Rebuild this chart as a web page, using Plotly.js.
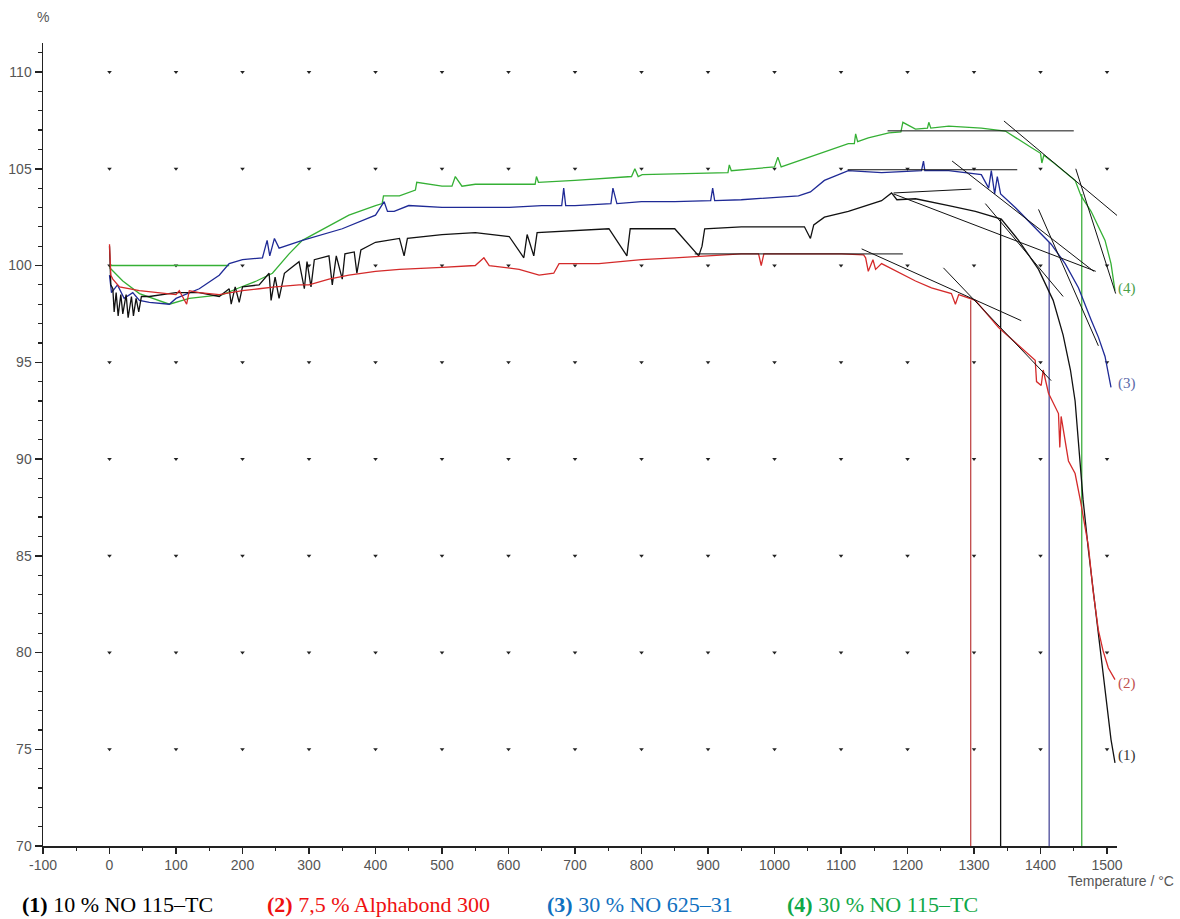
<!DOCTYPE html>
<html>
<head>
<meta charset="utf-8">
<script src="https://cdn.plot.ly/plotly-3.0.1.min.js"></script>
<style>
html,body{margin:0;padding:0;background:#fff;}
#chart{width:1180px;height:919px;}
</style>
</head>
<body>
<div id="chart"></div>
<script>
// ---------- tick labels ----------
const xTicks = [-100,0,100,200,300,400,500,600,700,800,900,1000,1100,1200,1300,1400,1500];
const yTicks = [70,75,80,85,90,95,100,105,110];
const gridT = [0,100,200,300,400,500,600,700,800,900,1000,1100,1200,1300,1400,1500];
const gridV = [75,80,85,90,95,100,105,110];

// ---------- series (Temperature / °C, mass %) ----------
// (1) 10 % NO 115-TC  (black)
const t1 = [0,2,5,7,10,13,17,20,25,28,33,36,40,44,48,60,100,135,165,180,183,189,195,200,225,240,243,249,255,263,270,285,293,297,303,308,330,335,341,350,354,368,372,378,400,436,443,448,500,550,601,623,628,638,643,700,751,778,783,800,850,886,891,895,950,1000,1045,1054,1059,1075,1111,1161,1176,1184,1212,1262,1302,1341,1367,1397,1419,1434,1445,1452,1458,1464,1472,1481,1490,1499,1506,1512];
const v1 = [101.0,99.0,98.8,97.6,98.6,97.4,98.5,97.5,98.5,97.3,98.4,97.4,98.3,97.6,98.4,98.4,98.6,98.6,98.4,98.8,98.0,98.9,98.1,98.9,99.0,99.6,98.2,99.4,98.3,99.6,99.8,100.2,98.8,100.2,98.9,100.3,100.5,99.0,100.5,99.3,100.6,100.7,99.6,100.8,101.2,101.4,100.5,101.4,101.6,101.7,101.5,100.4,101.6,100.5,101.7,101.8,101.9,100.5,101.9,101.9,101.9,100.5,101.0,101.9,102.0,102.0,102.0,101.4,102.1,102.5,102.8,103.35,103.75,103.4,103.45,103.1,102.8,102.4,101.3,99.8,98.2,96.4,94.6,93.0,90.4,87.9,85.3,82.7,80.1,77.5,75.5,74.3];

// (2) 7,5 % Alphabond 300  (red)
const t2 = [0,2,5,15,45,75,100,105,116,120,135,165,200,225,249,285,300,330,360,400,436,500,550,563,571,616,646,668,676,736,800,850,901,950,976,980,984,1051,1101,1134,1137,1141,1148,1152,1161,1212,1236,1266,1272,1277,1302,1337,1371,1392,1394,1401,1404,1412,1427,1429,1431,1442,1452,1460,1472,1479,1487,1494,1502,1512];
const v2 = [101.1,99.5,99.3,98.9,98.7,98.6,98.5,98.7,98.0,98.7,98.6,98.5,98.7,98.8,98.9,99.0,99.0,99.3,99.5,99.7,99.8,99.9,100.0,100.4,100.0,99.8,99.5,99.6,100.1,100.1,100.3,100.4,100.5,100.6,100.6,100.0,100.6,100.6,100.6,100.55,100.4,99.7,100.3,99.8,100.1,99.2,98.85,98.55,98.0,98.5,98.2,96.8,95.75,95.1,94.0,93.8,94.6,93.4,92.35,90.6,92.2,89.9,89.25,87.85,85.5,83.2,81.15,80.1,79.2,78.6];

// (3) 30 % NO 625-31  (blue)
const t3 = [0,3,12,22,35,45,60,90,100,120,135,165,180,200,230,237,241,248,255,290,350,400,413,418,428,450,500,601,650,680,683,686,700,754,757,763,800,850,904,907,910,950,1000,1036,1054,1075,1111,1161,1221,1224,1226,1262,1311,1322,1326,1331,1335,1340,1362,1392,1416,1437,1457,1476,1487,1497,1506];
const v3 = [99.5,98.6,99.0,98.3,98.6,98.2,98.1,98.0,98.3,98.6,98.8,99.5,100.1,100.3,100.4,101.3,100.5,101.4,100.9,101.3,101.9,102.6,103.3,102.8,102.8,103.1,103.0,103.0,103.1,103.1,104.0,103.1,103.1,103.2,104.0,103.2,103.3,103.3,103.35,104.0,103.35,103.4,103.5,103.6,103.8,104.4,104.9,104.8,104.9,105.4,104.9,104.9,104.7,104.0,104.9,103.7,104.6,103.7,103.0,101.95,101.1,100.1,98.85,97.2,96.3,95.3,93.7];

// (4) 30 % NO 115-TC  (green)
const t4 = [0,20,45,90,120,170,195,221,245,270,290,360,400,410,412,436,460,462,500,515,520,530,550,601,640,642,645,700,785,790,795,801,901,930,932,935,1000,1005,1010,1036,1111,1120,1122,1125,1141,1172,1190,1193,1212,1230,1232,1235,1262,1311,1347,1386,1400,1402,1405,1422,1452,1461,1476,1497,1506,1512];
const v4 = [99.9,99.2,98.55,98.0,98.3,98.5,98.85,99.2,99.6,100.6,101.3,102.6,103.1,103.2,103.6,103.6,103.9,104.3,104.1,104.1,104.6,104.1,104.2,104.2,104.2,104.6,104.3,104.4,104.6,105.0,104.6,104.7,104.8,104.8,105.2,104.9,105.1,105.6,105.1,105.4,106.3,106.3,106.8,106.4,106.6,106.85,106.9,107.4,107.05,107.1,107.4,107.1,107.2,107.1,106.95,106.1,105.8,105.3,105.7,105.25,104.4,103.6,102.8,101.3,100.1,98.7];
const t4base = [0,180];
const v4base = [100,100];

// ---------- evaluation tangents (T start, T end, value start, value end) ----------
const tanRed   = [[880,1193,100.6,100.6],[1131,1371,100.86,97.15],[1254,1416,99.88,94.05]];
const tanBlack = [[1179,1296,103.75,103.95],[1179,1483,103.7,99.7],[1317,1434,103.2,98.4]];
const tanBlue  = [[1110,1365,104.95,104.95],[1267,1480,105.4,99.7],[1397,1487,102.9,95.85]];
const tanGreen = [[1170,1450,106.96,106.96],[1345,1525,107.47,102.3],[1453,1513,105.0,98.55]];

// ---------- onset temperatures (vertical markers) ----------
const onsetNames = ['(1)','(2)','(3)','(4)'];
const onsetT   = [1340,1295,1413,1462];
const onsetTop = [102.4,98.2,101.2,103.7];
const endLabelV = [74.7,78.4,93.9,98.8];

// ---------- styles ----------
const curveColors = ['#111111','#d42a2a','#1f2a96','#35b035'];
const vertColors  = ['#111111','#c04848','#4a4a9a','#3fae3f'];
const labelColors = ['#333333','#c05050','#5a68a8','#4aa04a'];

const traces = [];

// grid dots
const gx = [], gy = [];
gridV.forEach(v => gridT.forEach(t => { gx.push(t); gy.push(v); }));
traces.push({x:gx, y:gy, mode:'markers', type:'scatter', hoverinfo:'skip',
  marker:{symbol:'triangle-down', size:4, color:'#222'}});

// verticals
onsetT.forEach((t,i) => {
  traces.push({x:[t,t], y:[onsetTop[i],70], mode:'lines', type:'scatter',
    line:{color:vertColors[i], width:1.3}, hoverinfo:'skip'});
});

// curves
traces.push({x:t4base, y:v4base, mode:'lines', line:{color:curveColors[3], width:1.3}, hoverinfo:'skip'});
const series = [[t4,v4,3],[t3,v3,2],[t1,v1,0],[t2,v2,1]];
series.forEach(s => {
  traces.push({x:s[0], y:s[1], mode:'lines', type:'scatter',
    line:{color:curveColors[s[2]], width:1.3}, hoverinfo:'skip'});
});

// tangents
[tanRed, tanBlack, tanBlue, tanGreen].forEach(group => group.forEach(seg => {
  traces.push({x:[seg[0],seg[1]], y:[seg[2],seg[3]], mode:'lines', type:'scatter',
    line:{color:'#111', width:1}, hoverinfo:'skip'});
}));

const serif = 'Liberation Serif, Times New Roman, serif';
const sans = 'Liberation Sans, Arial, sans-serif';

const annotations = [];
onsetNames.forEach((n,i) => {
  annotations.push({x:1514, y:endLabelV[i], xref:'x', yref:'y', text:n, showarrow:false,
    xanchor:'left', yanchor:'middle', font:{family:serif, size:15, color:labelColors[i]}});
});
annotations.push({x:0, y:1.032, xref:'paper', yref:'paper', text:'%', showarrow:false,
  xanchor:'center', yanchor:'middle', font:{family:sans, size:14, color:'#555'}});
annotations.push({x:1.055, y:-0.044, xref:'paper', yref:'paper', text:'Temperature / °C', showarrow:false,
  xanchor:'right', yanchor:'middle', font:{family:sans, size:14, color:'#555'}});

const legendItems = [
  {num:'1', txt:' 10 % NO 115–TC', color:'#000000', x:-0.021},
  {num:'2', txt:' 7,5 % Alphabond 300', color:'#ee1111', x:0.207},
  {num:'3', txt:' 30 % NO 625–31', color:'#1070c0', x:0.467},
  {num:'4', txt:' 30 % NO 115–TC', color:'#10a848', x:0.691}
];
legendItems.forEach(it => {
  annotations.push({x:it.x, y:-0.073, xref:'paper', yref:'paper',
    text:'<b>(' + it.num + ')</b>' + it.txt, showarrow:false, xanchor:'left', yanchor:'middle',
    font:{family:serif, size:22, color:it.color}});
});

const layout = {
  width:1180, height:919,
  margin:{l:43, r:63, t:43, b:73},
  paper_bgcolor:'#fff', plot_bgcolor:'#fff',
  showlegend:false,
  xaxis:{range:[-100,1515], tickvals:xTicks, ticktext:xTicks.map(String),
    ticks:'outside', ticklen:6, tickwidth:1.5, tickcolor:'#222',
    showline:true, linecolor:'#222', linewidth:1.5, showgrid:false, zeroline:false,
    tickfont:{family:sans, size:14, color:'#555'},
    minor:{dtick:50, tick0:0, ticks:'outside', ticklen:3, tickwidth:1.2, tickcolor:'#222', showgrid:false}},
  yaxis:{range:[70,111.5], tickvals:yTicks, ticktext:yTicks.map(String),
    ticks:'outside', ticklen:7, tickwidth:1.5, tickcolor:'#222',
    showline:true, linecolor:'#222', linewidth:1.5, showgrid:false, zeroline:false,
    tickfont:{family:sans, size:14, color:'#555'},
    minor:{dtick:1, tick0:70, ticks:'outside', ticklen:4, tickwidth:1.2, tickcolor:'#222', showgrid:false}},
  annotations:annotations
};

Plotly.newPlot('chart', traces, layout, {displayModeBar:false, staticPlot:true});
</script>
</body>
</html>
